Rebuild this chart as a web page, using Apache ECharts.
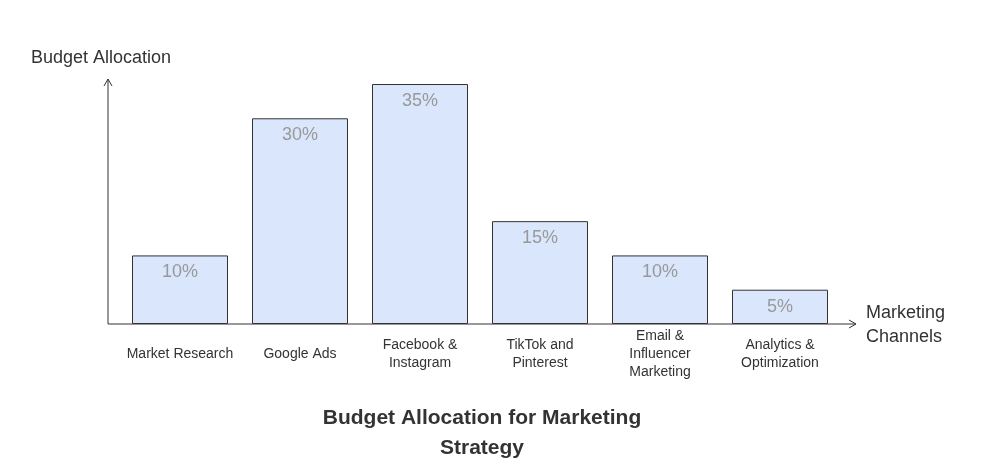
<!DOCTYPE html>
<html><head><meta charset="utf-8">
<script src="https://cdn.jsdelivr.net/npm/echarts@6/dist/echarts.min.js"></script>
<style>html,body{margin:0;padding:0;background:#fff}#c{width:997px;height:469px}</style>
</head><body><div id="c"></div>
<script>
const categories = ["Market Research","Google Ads","Facebook &\nInstagram","TikTok and\nPinterest","Email &\nInfluencer\nMarketing","Analytics &\nOptimization"];
const values = [10,30,35,15,10,5];
const chart = echarts.init(document.getElementById('c'));
const F = 'Arial, "Liberation Sans", sans-serif';
chart.setOption({
  animation:false,
  title:{text:'Budget Allocation for Marketing\nStrategy',left:477,textAlign:'center',top:398,
    textStyle:{fontFamily:F,fontSize:21,fontWeight:'bold',color:'#333',lineHeight:30}},
  grid:{left:120,top:84,width:720,height:240},
  xAxis:{type:'category',data:categories,axisLine:{show:false},axisTick:{show:false},
    axisLabel:{interval:0,margin:30,verticalAlign:'middle',lineHeight:18,fontFamily:F,fontSize:14,color:'#333'}},
  yAxis:{type:'value',min:0,max:35,show:false},
  series:[{type:'bar',data:values,barCategoryGap:'20%',
    itemStyle:{color:'#dae6fc',borderColor:'#333',borderWidth:1},
    label:{show:true,position:'insideTop',distance:8,formatter:'{c}%',fontFamily:F,fontSize:18,color:'#999'}}],
  graphic:[
    {type:'polyline',shape:{points:[[108,79],[108,324],[856,324]]},style:{stroke:'#333',lineWidth:1,fill:null}},
    {type:'polyline',shape:{points:[[104,86],[108,79],[112,86]]},style:{stroke:'#333',lineWidth:1,fill:null}},
    {type:'polyline',shape:{points:[[849,320],[856,324],[849,328]]},style:{stroke:'#333',lineWidth:1,fill:null}},
    {type:'text',left:31,top:49,style:{text:'Budget Allocation',fontFamily:F,fontSize:18,fill:'#333'}},
    {type:'text',left:866,top:301,style:{text:'Marketing\nChannels',fontFamily:F,fontSize:18,lineHeight:24,fill:'#333'}}
  ]
});
</script></body></html>
